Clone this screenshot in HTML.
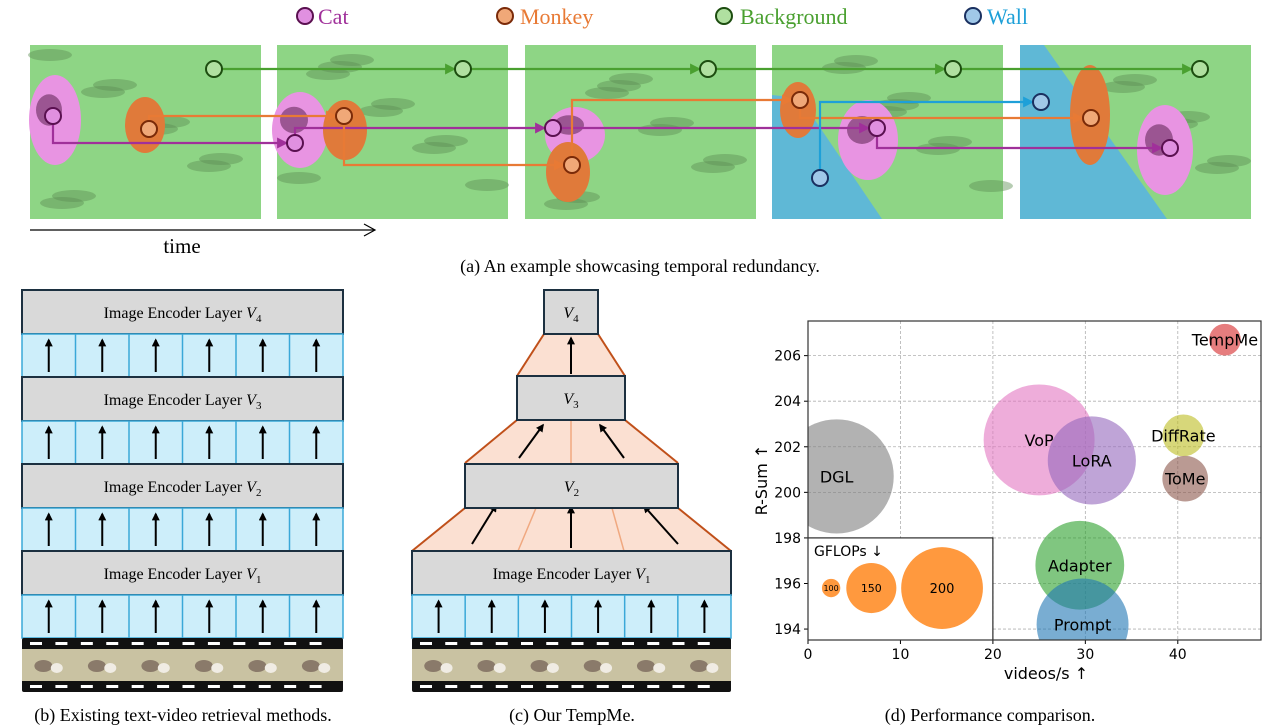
<!DOCTYPE html>
<html><head><meta charset="utf-8"><style>
html,body{margin:0;padding:0;background:#fff;}
svg{display:block;}
.serif{font-family:"Liberation Serif",serif;}
.sans{font-family:"DejaVu Sans","Liberation Sans",sans-serif;}
</style></head><body>
<svg id="fig" width="1279" height="728" viewBox="0 0 1279 728" xmlns="http://www.w3.org/2000/svg">
<defs>
<marker id="ah" viewBox="0 0 10 10" refX="9" refY="5" markerWidth="5" markerHeight="5" orient="auto"><path d="M0,0L10,5L0,10z" fill="context-stroke"/></marker>
<marker id="ak" viewBox="0 0 10 10" refX="8" refY="5" markerWidth="4" markerHeight="4" orient="auto"><path d="M0,0L10,5L0,10z" fill="#000"/></marker>
</defs>
<!-- legend (a) -->
<g class="serif" font-size="22">
<circle cx="305" cy="16" r="8" fill="#e090e0" stroke="#5a1050" stroke-width="2"/><text x="318" y="24" fill="#a0309a">Cat</text>
<circle cx="505" cy="16" r="8" fill="#f0a878" stroke="#7a2a08" stroke-width="2"/><text x="520" y="24" fill="#e87a35">Monkey</text>
<circle cx="724" cy="16" r="8" fill="#b0e0a0" stroke="#1d4d10" stroke-width="2"/><text x="740" y="24" fill="#4aa030">Background</text>
<circle cx="973" cy="16" r="8" fill="#a0c8e8" stroke="#1a3060" stroke-width="2"/><text x="987" y="24" fill="#1ea0d8">Wall</text>
</g>
<g id="frames"></g>
<g id="tracks"></g>
<line x1="30" y1="230" x2="374" y2="230" stroke="#000" stroke-width="1.2"/>
<path d="M364,224L375,230L364,236" fill="none" stroke="#000" stroke-width="1.2"/>
<text x="182" y="253" class="serif" font-size="21" text-anchor="middle">time</text>
<text x="640" y="272" class="serif" font-size="18" text-anchor="middle">(a) An example showcasing temporal redundancy.</text>
<g id="panelB"></g>
<g id="panelC"></g>
<text x="183" y="721" class="serif" font-size="18" text-anchor="middle">(b) Existing text-video retrieval methods.</text>
<text x="572" y="721" class="serif" font-size="18" text-anchor="middle">(c) Our TempMe.</text>
<g id="chart" class="sans"></g>
<text x="990" y="721" class="serif" font-size="18" text-anchor="middle">(d) Performance comparison.</text>
</svg>
<script>
// ---- chart data ----
const methods = ["TempMe","VoP","LoRA","DGL","DiffRate","ToMe","Adapter","Prompt"];
const speeds = [45.1,25.0,30.7,3.1,40.6,40.8,29.4,29.7];
const rsums = [206.7,202.3,201.4,200.7,202.5,200.6,196.8,194.2];
const gflops = [121,246,210,251,137,143,211,216];
const colors = ["#d62728","#e377c2","#9467bd","#7f7f7f","#bcbd22","#8c564b","#2ca02c","#1f77b4"];
const xTicks = [0,10,20,30,40];
const yTicks = [194,196,198,200,202,204,206];
const legendGflops = [100,150,200];
const legendSpeeds = [2.5,6.85,14.5];

const NS="http://www.w3.org/2000/svg";
function mk(tag,attrs,parent,txt){const e=document.createElementNS(NS,tag);for(const k in attrs)e.setAttribute(k,attrs[k]);if(txt!==undefined)e.textContent=txt;parent.appendChild(e);return e;}

// ---- chart ----
const C=document.getElementById('chart');
const L=808,R=1261,T=321,B=640,xMin=0,xMax=49,yMin=193.52,yMax=207.52;
const sx=v=>L+(v-xMin)/(xMax-xMin)*(R-L);
const sy=v=>B-(v-yMin)/(yMax-yMin)*(B-T);
const rad=g=>0.317*(g-71);
const clip=mk('clipPath',{id:'pc'},C);mk('rect',{x:L,y:T,width:R-L,height:B-T},clip);
xTicks.forEach(t=>{
  const g=mk('line',{x1:sx(t),x2:sx(t),y1:T,y2:B,stroke:'#b0b0b0','stroke-dasharray':'3,2','stroke-width':0.8},C);
  
  
  mk('line',{x1:sx(t),x2:sx(t),y1:B,y2:B+4,stroke:'#000'},C);
  const tx=mk('text',{x:sx(t),y:B+19,'font-size':14,'text-anchor':'middle'},C,t);
  
  
});
yTicks.forEach(t=>{
  const g=mk('line',{x1:L,x2:R,y1:sy(t),y2:sy(t),stroke:'#b0b0b0','stroke-dasharray':'3,2','stroke-width':0.8},C);
  
  
  mk('line',{x1:L-4,x2:L,y1:sy(t),y2:sy(t),stroke:'#000'},C);
  const tx=mk('text',{x:L-7,y:sy(t)+5,'font-size':14,'text-anchor':'end'},C,t);
  
  
});
const bg=mk('g',{'clip-path':'url(#pc)'},C);
methods.forEach((m,i)=>{
  const c=mk('circle',{cx:sx(speeds[i]),cy:sy(rsums[i]),r:rad(gflops[i]),fill:colors[i],'fill-opacity':0.6},bg);
  
  
});
methods.forEach((m,i)=>{
  const t=mk('text',{x:sx(speeds[i]),y:sy(rsums[i])+6,'font-size':16,'text-anchor':'middle'},C,m);
  
  
});
// size legend
const lb=mk('rect',{x:L,y:sy(198),width:sx(20)-L,height:B-sy(198),fill:'#fff',stroke:'#000','stroke-width':1},C);


const lt=mk('text',{x:L+6,y:sy(198)+18,'font-size':14},C,'GFLOPs ↓');


legendGflops.forEach((g,i)=>{
  const cy=sy(195.8);
  const c=mk('circle',{cx:sx(legendSpeeds[i]),cy:cy,r:rad(g),fill:'#ff7f0e','fill-opacity':0.8},C);
  
  
  const fs=[8,11,13][i];
  mk('text',{x:sx(legendSpeeds[i]),y:cy+fs*0.38,'font-size':fs,'text-anchor':'middle'},C,g);
});
mk('rect',{x:L,y:T,width:R-L,height:B-T,fill:'none',stroke:'#333','stroke-width':1.2},C);
const xl=mk('text',{x:1046,y:679,'font-size':16,'text-anchor':'middle'},C,'videos/s ↑');


const yl=mk('text',{x:0,y:0,'font-size':16,'text-anchor':'middle',transform:'translate(767,480) rotate(-90)'},C,'R-Sum ↑');



// ---- frames (a) ----
const F=document.getElementById('frames');
const fx=[30,277,525,772,1020];
fx.forEach((x,i)=>{
  const r=mk('rect',{x:x,y:45,width:231,height:174,fill:'#8ed585'},F);
  
  
  for(let k=0;k<9;k++){mk('ellipse',{cx:x+20+((k*53+i*31)%200),cy:55+((k*37+i*19)%155),rx:22,ry:6,fill:'#5d8f55','fill-opacity':0.45},F);}
});
// walls
mk('polygon',{points:'772,95 800,98 882,219 772,219',fill:'#5fb8d6'},F);
mk('polygon',{points:'1020,45 1044,45 1167,219 1020,219',fill:'#5fb8d6'},F);
// cats
const cats=[[55,120,26,45],[300,130,28,38],[575,135,30,28],[868,140,30,40],[1165,150,28,45]];
cats.forEach(c=>{mk('ellipse',{cx:c[0],cy:c[1],rx:c[2],ry:c[3],fill:'#e894e2'},F);mk('ellipse',{cx:c[0]-6,cy:c[1]-10,rx:c[2]*0.5,ry:c[3]*0.35,fill:'#7a3a70','fill-opacity':0.7},F);});
const monks=[[145,125,20,28],[345,130,22,30],[568,172,22,30],[798,110,18,28],[1090,115,20,50]];
monks.forEach(c=>mk('ellipse',{cx:c[0],cy:c[1],rx:c[2],ry:c[3],fill:'#e07a3a'},F));

// ---- tracks ----
const Tk=document.getElementById('tracks');
function track(pts,col){mk('polyline',{points:pts.map(p=>p.join(',')).join(' '),fill:'none',stroke:col,'stroke-width':2.2,'marker-end':'url(#ah)'},Tk);}
const bgX=[214,463,708,953,1200];
for(let i=0;i<4;i++)track([[bgX[i]+8,69],[bgX[i+1]-8,69]],'#4aa030');
track([[53,116],[53,143],[287,143]],'#a0309a');
track([[295,143],[295,128],[545,128]],'#a0309a');
track([[561,128],[869,128]],'#a0309a');
track([[877,128],[877,148],[1162,148]],'#a0309a');
track([[149,129],[149,116],[336,116]],'#e87a35');
track([[344,116],[344,165],[564,165]],'#e87a35');
track([[572,165],[572,100],[792,100]],'#e87a35');
track([[800,100],[800,118],[1083,118]],'#e87a35');
track([[820,178],[820,102],[1033,102]],'#1ea0d8');
function mark(x,y,f,s){mk('circle',{cx:x,cy:y,r:8,fill:f,stroke:s,'stroke-width':2},Tk);}
bgX.forEach(x=>mark(x,69,'#b0e0a0','#1d4d10'));
[[53,116],[295,143],[553,128],[877,128],[1170,148]].forEach(p=>mark(p[0],p[1],'#e090e0','#5a1050'));
[[149,129],[344,116],[572,165],[800,100],[1091,118]].forEach(p=>mark(p[0],p[1],'#f0a878','#7a2a08'));
[[820,178],[1041,102]].forEach(p=>mark(p[0],p[1],'#a0c8e8','#1a3060'));

// ---- panel b / c helpers ----
function encBox(g,x,y,w,h,label,sub){
  const r=mk('rect',{x:x,y:y,width:w,height:h,fill:'#d9d9d9',stroke:'#1c3040','stroke-width':2},g);
  
  
  const t=mk('text',{x:x+w/2,y:y+h/2+6,'font-size':16,'text-anchor':'middle',class:'serif'},g);
  if(label)t.appendChild(document.createTextNode(label));
  mk('tspan',{'font-style':'italic'},t,'V');
  mk('tspan',{'font-size':11,dy:4},t,sub);
}
function band(g,x,y,w,h){
  mk('rect',{x:x,y:y,width:w,height:h,fill:'#cdeefa',stroke:'#3aa8d8','stroke-width':1.5},g);
  const cw=w/6;
  for(let i=0;i<6;i++){
    if(i>0)mk('line',{x1:x+cw*i,x2:x+cw*i,y1:y,y2:y+h,stroke:'#3aa8d8','stroke-width':1.5},g);
    const ax=x+cw*i+cw/2;
    mk('line',{x1:ax,x2:ax,y1:y+h-5,y2:y+6,stroke:'#000','stroke-width':2,'marker-end':'url(#ak)'},g);
  }
}
function film(g,x,y,w){
  mk('rect',{x:x,y:y,width:w,height:54,fill:'#111',rx:2},g);
  mk('rect',{x:x,y:y+11,width:w,height:32,fill:'#c9c2a2'},g);
  const cw=w/6;
  for(let i=0;i<6;i++){
    mk('ellipse',{cx:x+cw*i+cw*0.4,cy:y+28,rx:9,ry:6,fill:'#8a7a6a'},g);
    mk('ellipse',{cx:x+cw*i+cw*0.65,cy:y+30,rx:6,ry:5,fill:'#f0ece4'},g);
  }
  const n=12;for(let i=0;i<n;i++){const dx=x+8+i*(w-16)/n;mk('rect',{x:dx,y:y+4,width:12,height:3,fill:'#fff'},g);mk('rect',{x:dx,y:y+47,width:12,height:3,fill:'#fff'},g);}
}
// panel b
const PB=document.getElementById('panelB');
const bx=22,bw=321;
const rows=[[290,'4'],[377,'3'],[464,'2'],[551,'1']];
rows.forEach(r=>{encBox(PB,bx,r[0],bw,44,'Image Encoder Layer ',r[1]);band(PB,bx,r[0]+44,bw,43);});
film(PB,bx,638,bw);
// panel c
const PC=document.getElementById('panelC');
const trap=(pts)=>mk('polygon',{points:pts,fill:'#fbe0d2',stroke:'none'},PC);
trap('412,551 731,551 678,508 465,508');
trap('465,463 678,463 625,420 517,420');
trap('517,376 625,376 598,334 544,334');
[['412,551','465,508'],['731,551','678,508'],['465,463','517,420'],['678,463','625,420'],['517,376','544,334'],['625,376','598,334']].forEach(s=>{const a=s[0].split(','),b=s[1].split(',');mk('line',{x1:a[0],y1:a[1],x2:b[0],y2:b[1],stroke:'#c0501a','stroke-width':2},PC);});
[[518,551,536,508],[624,551,612,508],[571,463,571,420]].forEach(l=>mk('line',{x1:l[0],y1:l[1],x2:l[2],y2:l[3],stroke:'#f0a880','stroke-width':1.5},PC));
[[472,544,496,505],[571,548,571,507],[678,544,644,506],[519,458,543,425],[624,458,600,425],[571,374,571,338]].forEach(l=>mk('line',{x1:l[0],y1:l[1],x2:l[2],y2:l[3],stroke:'#000','stroke-width':2,'marker-end':'url(#ak)'},PC));
encBox(PC,544,290,54,44,'','4');
encBox(PC,517,376,108,44,'','3');
encBox(PC,465,464,213,44,'','2');
encBox(PC,412,551,319,44,'Image Encoder Layer ','1');
band(PC,412,595,319,43);
film(PC,412,638,319);
</script>
</body></html>
